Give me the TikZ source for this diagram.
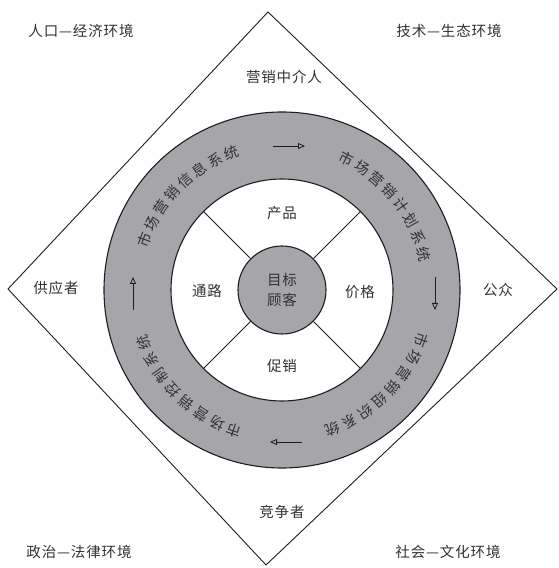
\documentclass[tikz,border=0pt]{standalone}
\usepackage{fontspec}
\setmainfont{Noto Sans CJK SC}[LetterSpace=6]
\usetikzlibrary{arrows.meta,calc}
\definecolor{ringgray}{RGB}{165,165,170}
\definecolor{txt}{RGB}{50,50,50}
\definecolor{linec}{RGB}{30,30,30}
\tikzset{
  lbl/.style={font=\fontsize{14.5}{17}\selectfont, text=txt, inner sep=0pt},
  ringch/.style={font=\fontsize{14.5}{17}\selectfont, text=txt, inner sep=0pt},
  flowarrow/.style={draw=linec, line width=0.8pt, -{Triangle[open,length=7pt,width=6pt]}},
  spoke/.style={draw=linec, line width=0.9pt}
}
\begin{document}
\begin{tikzpicture}[x=1pt,y=1pt]
\useasboundingbox (0,0) rectangle (559,568);
\coordinate (C) at (282,278);
% environment diamond
\coordinate (dt) at (268,556);
\coordinate (dr) at (557,279);
\coordinate (db) at (266,3);
\coordinate (dl) at (8,279);
\draw[draw=linec, line width=0.9pt] (dt) -- (dr) -- (db) -- (dl) -- cycle;
% rings
\node[circle, draw=linec, fill=ringgray, minimum size=356pt, inner sep=0pt, line width=1.1pt] (outer) at (C) {};
\node[circle, draw=linec, fill=white, minimum size=222pt, inner sep=0pt, line width=1.1pt] (inner) at (C) {};
\node[circle, draw=linec, fill=ringgray, minimum size=88pt, inner sep=0pt, line width=1.1pt, align=center, font=\fontsize{14.5}{20}\selectfont, text=txt] (tc) at (C) {目标\\顾客};
% spokes
\foreach \a in {45,135,225,315} \draw[spoke] (tc.\a) -- (inner.\a);
% 4P labels
\node[lbl] (prod) at (282,355) {产品};
\node[lbl] (place) at (207,277) {通路};
\node[lbl] (price) at (360,276) {价格};
\node[lbl] (promo) at (282,202) {促销};
% ring texts (clockwise, tops outward)
\foreach \ch [count=\i] in {市,场,营,销,信,息,系,统} {
  \pgfmathsetmacro{\th}{135+(4.5-\i)*7.1}
  \node[ringch, rotate=\th-90] (ul\i) at ($(C)+(\th:146)$) {\ch};
}
\foreach \ch [count=\i] in {市,场,营,销,计,划,系,统} {
  \pgfmathsetmacro{\th}{39+(4.5-\i)*7.1}
  \node[ringch, rotate=\th-90] (ur\i) at ($(C)+(\th:146)$) {\ch};
}
\foreach \ch [count=\i] in {市,场,营,销,组,织,系,统} {
  \pgfmathsetmacro{\th}{-45+(4.5-\i)*7.2}
  \node[ringch, rotate=\th-90] (lr\i) at ($(C)+(\th:148)$) {\ch};
}
\foreach \ch [count=\i] in {市,场,营,销,控,制,系,统} {
  \pgfmathsetmacro{\th}{-134+(4.5-\i)*7.2}
  \node[ringch, rotate=\th-90] (ll\i) at ($(C)+(\th:148)$) {\ch};
}
% flow arrows
\coordinate (a1s) at (273,422); \coordinate (a1e) at (305,422);
\coordinate (a2s) at (435,291); \coordinate (a2e) at (435,258);
\coordinate (a3s) at (302,126); \coordinate (a3e) at (270,126);
\coordinate (a4s) at (133,258); \coordinate (a4e) at (133,291);
\draw[flowarrow] (a1s) -- (a1e);
\draw[flowarrow] (a2s) -- (a2e);
\draw[flowarrow] (a3s) -- (a3e);
\draw[flowarrow] (a4s) -- (a4e);
% actors
\node[lbl] (mid) at (284,491) {营销中介人};
\node[lbl] (sup) at (56,280) {供应者};
\node[lbl] (pub) at (498,278) {公众};
\node[lbl] (comp) at (282,56) {竞争者};
% environments
\node[lbl] (env1) at (81,537) {人口—经济环境};
\node[lbl] (env2) at (449,537) {技术—生态环境};
\node[lbl] (env3) at (79,16) {政治—法律环境};
\node[lbl] (env4) at (448,16) {社会—文化环境};
\end{tikzpicture}
\end{document}
